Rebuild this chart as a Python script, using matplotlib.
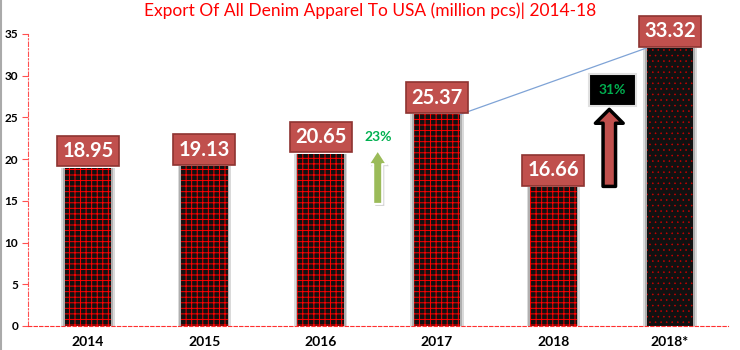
import numpy as np
import matplotlib
matplotlib.use("Agg")
import matplotlib.pyplot as plt
from matplotlib.lines import Line2D
import matplotlib.patheffects as pe

plt.rcParams['font.family'] = ['Lato', 'DejaVu Sans']

years = ["2014", "2015", "2016", "2017", "2018", "2018*"]
values = [18.95, 19.13, 20.65, 25.37, 16.66, 33.32]
growth_labels = ["23%", "31%"]

fig = plt.figure(figsize=(7.4, 3.5), dpi=100)
ax = fig.add_axes([28 / 740, 24 / 350, 700 / 740, 292 / 350])

x = np.arange(len(years))
w = 0.4

# grey glow behind the bars
ax.bar(x, values, width=w + 0.06, color="#dadada", zorder=1)
ax.bar(x, values, width=w + 0.03, color="#b0b0b0", zorder=1)

for i, v in enumerate(values):
    if years[i].endswith("*"):
        with plt.rc_context({'hatch.linewidth': 0.4}):
            ax.bar(x[i], v, width=w, color="#111111", edgecolor="#cc0000",
                   linewidth=0, hatch="...", zorder=2)
    else:
        with plt.rc_context({'hatch.linewidth': 0.7}):
            ax.bar(x[i], v, width=w, color="#111111", edgecolor="red",
                   linewidth=0, hatch="+++", zorder=2)
    ax.annotate(f"{v:.2f}", (x[i], v), xytext=(0, 12), textcoords="offset points",
                ha="center", va="center", color="white", fontsize=14.5,
                fontweight="bold", zorder=5,
                bbox=dict(boxstyle="square,pad=0.26", fc="#C0504D",
                          ec="#8E3431", lw=1.2))

# line joining 2017 and 2018*
ax.plot([x[3] + w / 2, x[5] - w / 2], [values[3], values[5]],
        color="#7FA3D6", lw=0.9, zorder=3)

shadow = [pe.SimplePatchShadow(offset=(1.5, -1.5), shadow_rgbFace="#bbbbbb", alpha=0.6),
          pe.Normal()]

# green arrow (23%)
ax.annotate("", xy=(2.49, 21.4), xytext=(2.49, 14.3),
            arrowprops=dict(arrowstyle="simple,head_width=1.3,head_length=1.0,tail_width=0.65",
                            mutation_scale=10, fc="#9BBB59", ec="white", lw=1.5,
                            path_effects=shadow), zorder=4)
ax.text(2.49, 22.7, growth_labels[0], color="#00B050", fontsize=10,
        fontweight="bold", ha="center", va="center")

# red arrow (31%)
ax.annotate("", xy=(4.48, 26.3), xytext=(4.48, 16.4),
            arrowprops=dict(arrowstyle="simple,head_width=2.0,head_length=1.0,tail_width=0.9",
                            mutation_scale=10, fc="#C0504D", ec="black", lw=2.5), zorder=4)
ax.text(4.505, 28.3, growth_labels[1], color="#00B050", fontsize=10,
        fontweight="bold", ha="center", va="center",
        bbox=dict(boxstyle="square,pad=0.7", fc="black", ec="#e0e0e0", lw=1.5))

ax.set_xlim(-0.515, 5.5)
ax.set_ylim(0, 35)
ax.set_yticks(range(0, 36, 5))
ax.set_xticks(x)
ax.set_xticklabels(years, fontweight="bold", fontsize=10)
for lab in ax.get_yticklabels():
    lab.set_fontweight("bold")
    lab.set_fontsize(8.5)

ax.tick_params(axis="x", length=0, pad=7)
ax.tick_params(axis="y", length=4, width=0.8, color="#ff5050", pad=3)

for s in ["top", "right"]:
    ax.spines[s].set_visible(False)
ax.spines["left"].set_color("#ff5050")
ax.spines["left"].set_linestyle((0, (4, 2, 1, 2)))
ax.spines["left"].set_linewidth(0.8)
ax.spines["bottom"].set_color("#ff3030")
ax.spines["bottom"].set_linestyle((0, (3, 2)))
ax.spines["bottom"].set_linewidth(0.8)

fig.text(0.5, 0.97, "Export Of All Denim Apparel To USA (million pcs)| 2014-18",
         color="red", fontsize=12.5, ha="center", va="center")

fig.add_artist(Line2D([0.002, 0.002], [0, 1], transform=fig.transFigure,
                      color="#aaaaaa", lw=1.5))

fig.savefig("out.png", dpi=100)
